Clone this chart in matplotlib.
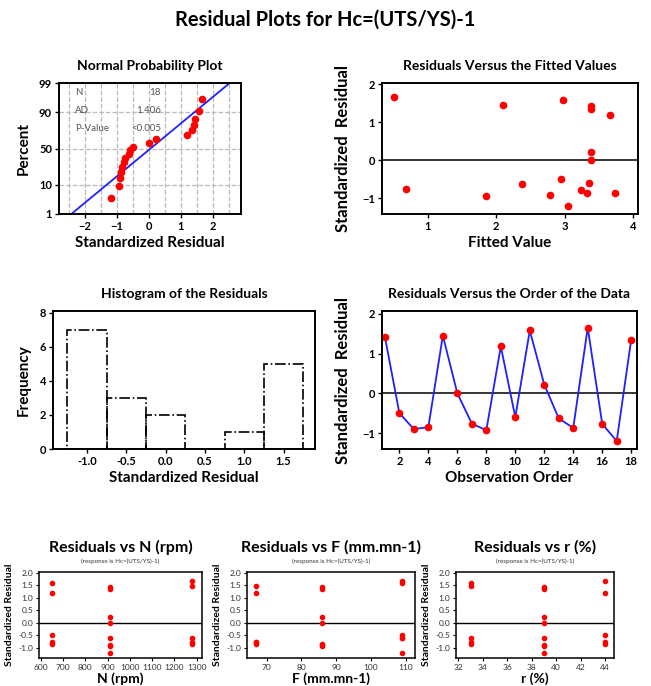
from statistics import NormalDist

import matplotlib
matplotlib.use("Agg")
import matplotlib.pyplot as plt
import numpy as np

plt.rcParams["font.family"] = ["Lato", "DejaVu Sans"]

# standardized residuals, in observation order
order = list(range(1, 19))
resid = [1.42, -0.50, -0.90, -0.85, 1.45, 0.00, -0.76, -0.93, 1.18,
         -0.60, 1.58, 0.22, -0.63, -0.87, 1.65, -0.77, -1.20, 1.35]
fitted = [3.38, 2.95, 2.78, 3.73, 2.10, 3.38, 0.68, 1.85, 3.66,
          3.35, 2.97, 3.38, 2.38, 3.33, 0.50, 3.23, 3.05, 3.38]

# process factors for each run
N_rpm = [910, 650, 910, 650, 1280, 910, 1280, 910, 650,
         1280, 650, 910, 910, 1280, 1280, 650, 910, 910]
F_feed = [86, 109, 86, 67, 67, 86, 67, 86, 67,
          109, 109, 86, 109, 86, 109, 67, 109, 86]
r_pct = [39, 44, 39, 44, 33, 39, 44, 39, 44,
         33, 33, 39, 39, 33, 44, 33, 39, 39]

stats_names = ["N", "AD", "P-Value"]
stats_vals = ["18", "1.406", "<0.005"]

hist_edges = np.arange(-1.25, 1.76, 0.5)

W, H = 651, 686
fig = plt.figure(figsize=(W / 100, H / 100), dpi=100)


def box(l, t, r, b):
    return [l / W, 1 - b / H, (r - l) / W, (b - t) / H]


def style_top(ax):
    for s in ax.spines.values():
        s.set_linewidth(1.4)
    ax.tick_params(labelsize=8, length=3, width=1, pad=2)
    for lab in ax.get_xticklabels() + ax.get_yticklabels():
        lab.set_fontweight("bold")


fig.text(0.5, 1 - 20 / H, "Residual Plots for Hc=(UTS/YS)-1", ha="center", va="center",
         fontsize=14.5, fontweight="bold")

# --- normal probability plot
ax1 = fig.add_axes(box(59, 83, 241, 214))
nd = NormalDist()
srt = np.sort(resid)
n = len(srt)
pz = [nd.inv_cdf((i + 1 - 0.3) / (n + 0.4)) for i in range(n)]
mu, sd = np.mean(resid), np.std(resid, ddof=1)
zl = np.array([nd.inv_cdf(0.005), nd.inv_cdf(0.995)])
ax1.plot(mu + sd * zl, zl, color="#2020ff", lw=1.3, zorder=2)
ax1.plot(srt, pz, "o", color="red", ms=4.5, zorder=3)
yt = [1, 10, 50, 90, 99]
ax1.set_yticks([nd.inv_cdf(p / 100) for p in yt])
ax1.set_yticklabels([str(p) for p in yt])
ax1.set_ylim(nd.inv_cdf(0.01), nd.inv_cdf(0.99))
ax1.set_xlim(-2.82, 2.88)
ax1.set_xticks([-2, -1, 0, 1, 2])
ax1.set_xticks(np.arange(-2.5, 2.6, 0.5), minor=True)
ax1.tick_params(which="minor", length=0)
ax1.grid(True, which="both", axis="x", color="#bbbbbb", ls="--", lw=0.9)
ax1.grid(True, which="major", axis="y", color="#bbbbbb", ls="--", lw=0.9)
ax1.set_axisbelow(True)
for i, (nm, v) in enumerate(zip(stats_names, stats_vals)):
    yy = 0.93 - i * 0.14
    ax1.text(0.09, yy, nm, transform=ax1.transAxes, fontsize=7, color="#555555", va="center")
    ax1.text(0.56, yy, v, transform=ax1.transAxes, fontsize=7, color="#555555", va="center", ha="right")
style_top(ax1)
ax1.set_title("Normal Probability Plot", fontsize=10, fontweight="bold", pad=9)
ax1.set_xlabel("Standardized Residual", fontsize=11, fontweight="bold", labelpad=3)
ax1.set_ylabel("Percent", fontsize=11, fontweight="bold", labelpad=6)

# --- residuals vs fitted
ax2 = fig.add_axes(box(382, 83, 638, 214))
ax2.axhline(0, color="black", lw=1.1)
ax2.plot(fitted, resid, "o", color="red", ms=4.5)
ax2.set_xlim(0.33, 4.07)
ax2.set_ylim(-1.41, 2.03)
ax2.set_xticks([1, 2, 3, 4])
ax2.set_yticks([-1, 0, 1, 2])
style_top(ax2)
ax2.set_title("Residuals Versus the Fitted Values", fontsize=10, fontweight="bold", pad=9)
ax2.set_xlabel("Fitted Value", fontsize=11, fontweight="bold", labelpad=3)
ax2.set_ylabel("Standardized  Residual", fontsize=12, fontweight="bold", labelpad=8)

# --- histogram
ax3 = fig.add_axes(box(53, 311, 315, 449))
counts, edges = np.histogram(resid, bins=hist_edges)
ax3.bar(edges[:-1], counts, width=np.diff(edges), align="edge", fill=False,
        edgecolor="black", linestyle="-.", lw=1.2)
ax3.set_xlim(-1.43, 1.90)
ax3.set_ylim(0, 8.1)
ax3.set_xticks([-1.0, -0.5, 0.0, 0.5, 1.0, 1.5])
ax3.set_xticklabels(["-1.0", "-0.5", "0.0", "0.5", "1.0", "1.5"])
ax3.set_yticks([0, 2, 4, 6, 8])
style_top(ax3)
ax3.set_title("Histogram of the Residuals", fontsize=10, fontweight="bold", pad=9)
ax3.set_xlabel("Standardized Residual", fontsize=11, fontweight="bold", labelpad=3)
ax3.set_ylabel("Frequency", fontsize=11, fontweight="bold", labelpad=6)

# --- residuals vs order
ax4 = fig.add_axes(box(382, 311, 637, 449))
ax4.axhline(0, color="black", lw=1.1)
ax4.plot(order, resid, "-", color="#2020ff", lw=1.3)
ax4.plot(order, resid, "o", color="red", ms=4.5)
ax4.set_xlim(0.8, 18.4)
ax4.set_ylim(-1.4, 2.07)
ax4.set_xticks(range(2, 19, 2))
ax4.set_yticks([-1, 0, 1, 2])
style_top(ax4)
ax4.set_title("Residuals Versus the Order of the Data", fontsize=10, fontweight="bold", pad=9)
ax4.set_xlabel("Observation Order", fontsize=11, fontweight="bold", labelpad=3)
ax4.set_ylabel("Standardized  Residual", fontsize=12, fontweight="bold", labelpad=8)

# --- residuals vs each factor
bottom = [
    ((39, 202), N_rpm, (592, 1324), range(600, 1301, 100), "N (rpm)", "Residuals vs N (rpm)"),
    ((247, 415), F_feed, (64.3, 112.7), range(70, 111, 10), "F (mm.mn-1)", "Residuals vs F (mm.mn-1)"),
    ((456, 614), r_pct, (31.8, 44.74), range(32, 45, 2), "r (%)", "Residuals vs r (%)"),
]
for (l, r), xv, xl, xt, xlab, ttl in bottom:
    ax = fig.add_axes(box(l, 572, r, 658))
    ax.axhline(0, color="black", lw=1.0)
    ax.plot(xv, resid, "o", color="red", ms=3)
    ax.set_xlim(*xl)
    ax.set_ylim(-1.41, 2.02)
    ax.set_xticks(list(xt))
    ax.set_yticks(np.arange(-1.0, 2.01, 0.5))
    ax.set_yticklabels([f"{v:.1f}" for v in np.arange(-1.0, 2.01, 0.5)])
    for s in ax.spines.values():
        s.set_linewidth(1.1)
    ax.tick_params(labelsize=6, length=2.5, width=0.8, pad=1.5, labelcolor="#333333")
    cx = (l + r) / 2
    fig.text(cx / W, 1 - 678.5 / H, xlab, ha="center", va="center", fontsize=10, fontweight="bold")
    ax.set_ylabel("Standardized Residual", fontsize=7.5, fontweight="bold", labelpad=3)
    fig.text(cx / W, 1 - 547 / H, ttl, ha="center", va="center", fontsize=11.5, fontweight="bold")
    fig.text(cx / W, 1 - 561 / H, "(response is Hc=(UTS/YS)-1)", ha="center", va="center",
             fontsize=4.5, color="#333333")

fig.savefig("out.png", dpi=100)
